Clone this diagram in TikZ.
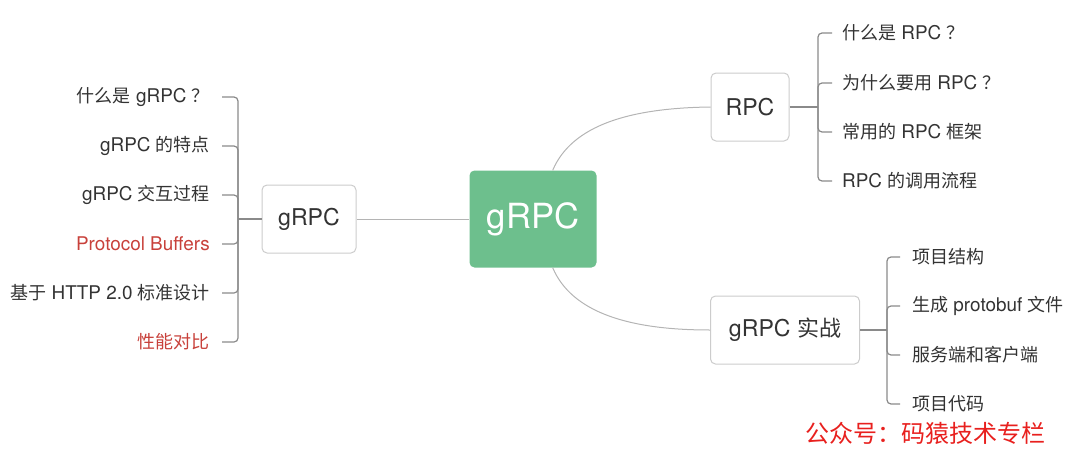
\documentclass[tikz,border=0pt]{standalone}
\usepackage{fontspec}
\setmainfont{TeX Gyre Heros}[Scale=1.05]
\newfontfamily\cjk{Noto Sans CJK SC}
\newcommand{\zh}[1]{{\cjk #1}}
\usetikzlibrary{positioning}

\definecolor{mindgreen}{HTML}{6DBF8D}
\definecolor{textgray}{HTML}{333333}
\definecolor{boxline}{HTML}{CCCCCC}
\definecolor{linkgray}{HTML}{B4B4B4}
\definecolor{brackgray}{HTML}{8A8A8A}
\definecolor{hired}{HTML}{C8413B}
\definecolor{markred}{HTML}{E8201E}

\begin{document}
\begin{tikzpicture}[x=1pt,y=-1pt,
		topic/.style={draw=boxline, line width=1pt, rounded corners=5pt, fill=white,
				minimum height=68pt, text=textgray, font=\fontsize{22}{26}\selectfont},
		leaf/.style={text=textgray, inner sep=0pt, font=\fontsize{18}{22}\selectfont},
		link/.style={draw=linkgray, line width=1pt},
		bracket/.style={draw=brackgray, line width=1.2pt, rounded corners=4pt}]
			\useasboundingbox (0,0) rectangle (1080,458);

			% Central topic
			\node[fill=mindgreen, rounded corners=5pt, minimum width=127pt, minimum height=97pt,
				text=white, font=\fontsize{33}{40}\selectfont] (core) at (533,219) {gRPC};

			% Main topics
			\node[topic, minimum width=94pt] (left) at (309,219) {gRPC};
			\node[topic, minimum width=78pt] (rpc) at (750,107) {RPC};
			\node[topic, minimum width=149pt] (demo) at (785,330) {gRPC \zh{实战}};

			% Links to the central topic
			\draw[link] (left.east) -- (core.west);
			\draw[link] (core.68) .. controls (572,125) and (630,108) .. (rpc.west);
			\draw[link] (core.-68) .. controls (572,313) and (630,330) .. (demo.west);

			% Left subtopics
			\node[leaf, anchor=east] (l1) at (210,97) {\zh{什么是} gRPC \zh{？}};
			\node[leaf, anchor=east] (l2) at (210,146) {gRPC \zh{的特点}};
			\node[leaf, anchor=east] (l3) at (210,195) {gRPC \zh{交互过程}};
			\node[leaf, anchor=east, text=hired] (l4) at (210,244) {Protocol Buffers};
			\node[leaf, anchor=east] (l5) at (210,293) {\zh{基于} HTTP 2.0 \zh{标准设计}};
			\node[leaf, anchor=east, text=hired] (l6) at (210,342) {\zh{性能对比}};

			\coordinate (lj) at (238,219);
			\foreach \n in {l1,l2,l3,l4,l5,l6}
				\draw[bracket, shorten <=12pt] (\n.east) -| (lj);
			\draw[bracket] (lj) -- (left.west);

			% RPC subtopics
			\node[leaf, anchor=west] (r1) at (842,33) {\zh{什么是} RPC \zh{？}};
			\node[leaf, anchor=west] (r2) at (842,83) {\zh{为什么要用} RPC \zh{？}};
			\node[leaf, anchor=west] (r3) at (842,132) {\zh{常用的} RPC \zh{框架}};
			\node[leaf, anchor=west] (r4) at (842,181) {RPC \zh{的调用流程}};

			\coordinate (rj) at (818,107);
			\foreach \n in {r1,r2,r3,r4}
				\draw[bracket, shorten <=10pt] (\n.west) -| (rj);
			\draw[bracket] (rpc.east) -- (rj);

			% gRPC demo subtopics
			\node[leaf, anchor=west] (d1) at (912,257) {\zh{项目结构}};
			\node[leaf, anchor=west] (d2) at (912,306) {\zh{生成} protobuf \zh{文件}};
			\node[leaf, anchor=west] (d3) at (912,355) {\zh{服务端和客户端}};
			\node[leaf, anchor=west] (d4) at (912,404) {\zh{项目代码}};

			\coordinate (dj) at (887,330);
			\foreach \n in {d1,d2,d3,d4}
				\draw[bracket, shorten <=12pt] (\n.west) -| (dj);
			\draw[bracket] (demo.east) -- (dj);

			% Watermark
			\node[text=markred, inner sep=0pt, font=\cjk\fontsize{24}{28}\selectfont] (mark) at (925,433) {公众号：码猿技术专栏};

		\end{tikzpicture}
\end{document}
